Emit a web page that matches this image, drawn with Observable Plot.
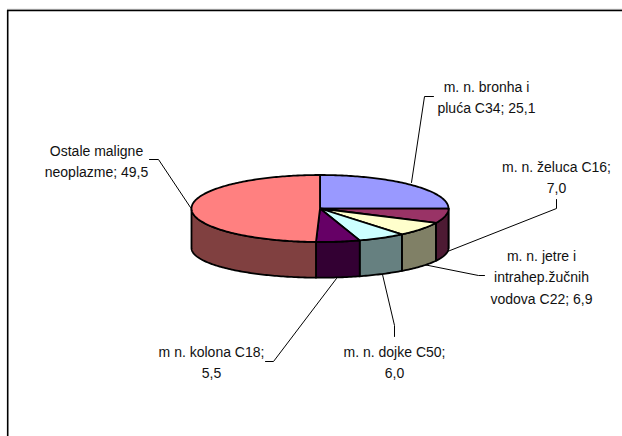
<!DOCTYPE html>
<html>
<head>
<meta charset="utf-8">
<style>html,body{margin:0;padding:0;background:#fff}svg{display:block}</style>
<script src="https://cdn.jsdelivr.net/npm/d3@7"></script>
<script src="https://cdn.jsdelivr.net/npm/@observablehq/plot@0.6"></script>
</head>
<body>
<script>
// Data
const categories = ["m. n. bronha i pluća C34","m. n. želuca C16","m. n. jetre i intrahep.žučnih vodova C22","m. n. dojke C50","m n. kolona C18","Ostale maligne neoplazme"];
const values = [25.1, 7.0, 6.9, 6.0, 5.5, 49.5];
const topColors = ["#9999FF","#993366","#FFFFCC","#CCFFFF","#660066","#FF8080"];
const sideColors = ["#4D4D80","#4D1A33","#808066","#668080","#330033","#804040"];

// Label text, line by line
const labelLines = [
  ["m. n. bronha i","pluća C34; 25,1"],
  ["m. n. želuca C16;","7,0"],
  ["m. n. jetre i","intrahep.žučnih","vodova C22; 6,9"],
  ["m. n. dojke C50;","6,0"],
  ["m n. kolona C18;","5,5"],
  ["Ostale maligne","neoplazme; 49,5"]
];
// Label placement: centre x, first line middle y
const labelX = [486, 556, 541, 394, 211, 96];
const labelY = [87, 167, 256, 352, 352, 151];
const lineGap = 21.5;
// Leader lines
const leaderPaths = [
  [[411,182],[424,96],[433,96]],
  [[447,251],[556,208],[556,199]],
  [[423,264],[478,275],[484,275]],
  [[382,274],[394,325],[394,336]],
  [[336,278],[273,361],[265,361]],
  [[190,207],[158,159],[149,159]]
];

// Pie geometry
const cx = 319.5, rx = 128.5, cyTop = 208, ryTop = 33.5, cyBot = 247.5, ryBot = 29.7;
const rad = d => d * Math.PI / 180;
const topPt = a => [cx + rx * Math.sin(rad(a)), cyTop - ryTop * Math.cos(rad(a))];
const botPt = a => [cx + rx * Math.sin(rad(a)), cyBot - ryBot * Math.cos(rad(a))];
const total = d3.sum(values);
const ends = d3.cumsum(values).map(v => v / total * 360);
const starts = ends.map((e, i) => i ? ends[i - 1] : 0);
const arc = (a0, a1, f) => {
  const n = Math.max(1, Math.ceil(Math.abs(a1 - a0)));
  return d3.range(n + 1).map(i => f(a0 + (a1 - a0) * i / n));
};
const toRows = (key, color, pts) => pts.map(([x, y]) => ({x, y, key, color}));

const wallRows = values.flatMap((_, i) => {
  const a0 = Math.max(starts[i], 90), a1 = Math.min(ends[i], 270);
  if (a1 <= a0) return [];
  const pts = [...arc(a0, a1, topPt), ...arc(a1, a0, botPt)];
  pts.push(pts[0]);
  return toRows("w" + i, sideColors[i], pts);
});
const topRows = values.flatMap((_, i) => {
  const pts = [[cx, cyTop], ...arc(starts[i], ends[i], topPt), [cx, cyTop]];
  return toRows("t" + i, topColors[i], pts);
});
const leaderRows = leaderPaths.flatMap((p, i) => p.map(([x, y]) => ({x, y, key: i})));
const textRows = labelLines.flatMap((lines, i) =>
  lines.map((text, j) => ({text, x: labelX[i], y: labelY[i] + j * lineGap})));

const chart = Plot.plot({
  width: 622, height: 436,
  margin: 0,
  x: {domain: [0, 622], range: [0, 622], axis: null},
  y: {domain: [0, 436], range: [0, 436], axis: null},
  color: {type: "identity"},
  style: {fontFamily: "'Liberation Sans', Arial, sans-serif", background: "#fff"},
  marks: [
    Plot.ruleY([8.8], {x1: 7, x2: 622, stroke: "#bbb", strokeWidth: 1}),
    Plot.ruleY([10], {x1: 7, x2: 622, stroke: "#000", strokeWidth: 1.6}),
    Plot.ruleX([7.2], {y1: 10, y2: 436, stroke: "#000", strokeWidth: 1.6}),
    Plot.line(leaderRows, {x: "x", y: "y", z: "key", stroke: "#000", strokeWidth: 1, curve: "linear"}),
    Plot.line(wallRows, {x: "x", y: "y", z: "key", fill: "color", stroke: "#000", strokeWidth: 1.8, strokeLinejoin: "round", curve: "linear"}),
    Plot.line(topRows, {x: "x", y: "y", z: "key", fill: "color", stroke: "#000", strokeWidth: 1.8, strokeLinejoin: "round", curve: "linear"}),
    Plot.text(textRows, {x: "x", y: "y", text: "text", fontSize: 14, fill: "#111", textAnchor: "middle", lineAnchor: "middle"})
  ]
});
document.body.appendChild(chart);
</script>
</body>
</html>
